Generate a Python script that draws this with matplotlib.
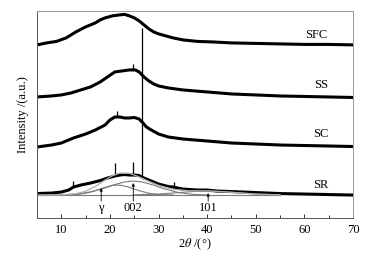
import matplotlib
matplotlib.use("Agg")
import matplotlib.pyplot as plt

plt.rcParams["font.family"] = ["Liberation Serif", "DejaVu Serif"]
plt.rcParams["mathtext.fontset"] = "stix"

# ---- XRD traces (2theta, intensity in arbitrary offset units) ----
sfc_x = [5, 7, 9, 11, 13, 15, 17, 18, 19, 20.5, 22, 23, 24, 25, 26, 27, 28, 29, 30,
         31.5, 33, 35, 38, 41, 45, 50, 55, 60, 65, 70]
sfc_y = [173, 175, 176.5, 180, 186, 191, 195, 198, 200, 202, 203, 203.5, 202, 200, 197,
         193, 189, 186, 184, 182, 180, 178, 176.5, 176, 175, 174.5, 174, 173.5, 173.5, 173]

ss_x = [5, 8, 10, 12, 14, 16, 18, 19.5, 21, 22.5, 24, 25.2, 26, 27, 28, 29, 30,
        32, 35, 40, 45, 50, 55, 60, 65, 70]
ss_y = [121, 122, 123, 125, 128, 131, 136, 141, 146, 147, 148, 148, 146, 141, 137,
        134, 132, 130, 128, 126, 124, 123, 122, 121.5, 121, 120.5]

sc_x = [5, 8, 10, 12.5, 15, 17, 19, 20, 21, 22, 23, 24, 25, 26, 26.8, 27.5, 28.5,
        30, 32, 35, 40, 45, 50, 55, 60, 65, 70]
sc_y = [71, 73, 75, 80, 84, 88, 93, 98, 101, 101, 100, 100, 100.5, 99, 95, 91, 88,
        84, 81, 79, 77, 75, 74, 73, 72.5, 72, 71.5]

sr_x = [5, 8, 10, 11.5, 12.5, 14, 16, 18, 19.5, 21, 22, 23, 24, 25, 26, 27, 28, 29,
        30, 32, 33, 35, 38, 40, 42, 45, 50, 55, 60, 65, 70]
sr_y = [24.5, 25, 26, 28, 31, 33, 35, 37.5, 40, 42, 43, 43.5, 43, 43, 42.5, 40, 38,
        36, 34, 31.5, 31, 29, 28, 28, 27, 26.5, 25.5, 24.5, 24, 23.5, 23]

# sharp reflections (position, foot, top)
spike_x = [24.7, 21.5, 12.5, 21.0, 24.8, 26.6, 33.1]
spike_lo = [148, 101, 31, 42, 43, 42, 31]
spike_hi = [154, 107, 37, 55, 56, 190, 36]

# ---- peak-fit curves under SR ----
base_x = [5, 55]
base_y = [23, 23]
gam_x = [10, 13, 15, 17, 19, 20.5, 21.5, 22.5, 24, 26, 28, 30, 33]
gam_y = [23, 23.5, 24.8, 27.4, 30.7, 32.6, 33, 32.6, 30.7, 27.4, 24.8, 23.5, 23.1]
p002_x = [5, 10, 13, 16, 19, 21, 23, 24.8, 26.5, 28.5, 31, 34, 37, 40]
p002_y = [23, 23.2, 23.9, 26, 30.2, 33.5, 36.1, 37, 36.2, 33.6, 29.5, 25.6, 23.7, 23.1]
p101_x = [25, 30, 34, 37, 40, 43, 46, 50, 55]
p101_y = [23.2, 24, 25.4, 26.5, 27, 26.5, 25.4, 24, 23.2]
fit_x = [5, 10, 13, 15, 17, 19, 20.5, 22, 24, 26, 28, 30, 33, 36, 40, 45, 50, 55]
fit_y = [23, 23.2, 24.4, 26.8, 31.6, 38, 42.3, 44.9, 44.7, 41.2, 36.7, 32.7, 28.8,
         27.3, 27.2, 25.8, 24, 23.2]

labels = ["SFC", "SS", "SC", "SR"]
label_xy = [(62.5, 177), (63.5, 127), (63.3, 78), (63.3, 27.5)]
peaks = ["γ", "002", "101"]
peak_x = [18.2, 24.8, 40.2]
peak_tip = [30, 35, 25]

fig = plt.figure(figsize=(3.84, 2.59), dpi=100)
ax = fig.add_axes([0.0964, 0.158, 0.823, 0.800])

for xs, ys in [(sfc_x, sfc_y), (ss_x, ss_y), (sc_x, sc_y), (sr_x, sr_y)]:
    ax.plot(xs, ys, color="black", lw=2.2, solid_joinstyle="round")
ax.vlines(spike_x, spike_lo, spike_hi, color="black", lw=0.9)

for xs, ys in [(base_x, base_y), (gam_x, gam_y), (p002_x, p002_y), (p101_x, p101_y)]:
    ax.plot(xs, ys, color="#7a7a7a", lw=0.8)
ax.plot(fit_x, fit_y, color="#b0b0b0", lw=0.9)

for t, (x, y) in zip(labels, label_xy):
    ax.text(x, y, t, fontsize=9, ha="center", va="bottom")

for t, x, tip in zip(peaks, peak_x, peak_tip):
    ax.annotate("", xy=(x, tip), xytext=(x, 17),
                arrowprops=dict(arrowstyle="-|>", color="black", lw=0.6,
                                mutation_scale=4, shrinkA=0, shrinkB=0))
    ax.text(x, 16, t, fontsize=9, ha="center", va="top")

ax.set_xlim(5, 70)
ax.set_ylim(0, 207)
ax.set_xticks(range(10, 71, 10))
ax.set_xticks(range(15, 70, 10), minor=True)
ax.set_yticks([])
ax.tick_params(axis="x", which="major", direction="in", length=3, width=0.7,
               labelsize=9, pad=4, colors="#333333", labelcolor="black")
ax.tick_params(axis="x", which="minor", direction="in", length=2, width=0.7,
               colors="#333333")
for s in ax.spines.values():
    s.set_color("#555555")
    s.set_linewidth(0.7)
ax.spines["top"].set_color("#999999")
ax.spines["right"].set_color("#999999")

ax.set_xlabel(r"2$\it{\theta}$ /(°)", fontsize=9, labelpad=1)
ax.set_ylabel("Intensity /(a.u.)", fontsize=9, labelpad=6)

fig.savefig("out.png", dpi=100)
